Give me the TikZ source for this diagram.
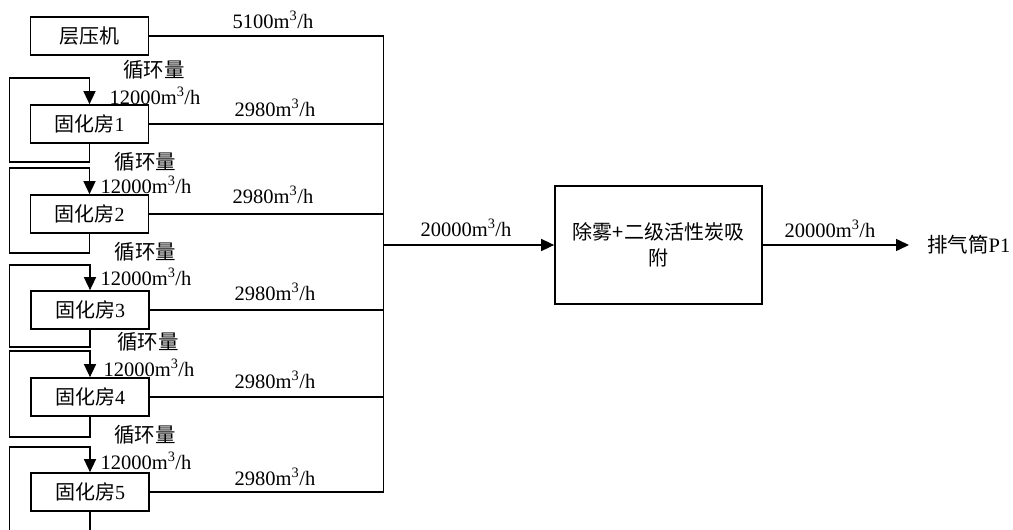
\documentclass[tikz,border=0pt]{standalone}
\usepackage{fontspec}
\setmainfont{Liberation Serif}
\newfontfamily\cjk{Noto Sans CJK SC}
\usetikzlibrary{arrows.meta}
\begin{document}
\begin{tikzpicture}[x=1pt,y=-1pt,
  box/.style={draw, line width=1.7pt, minimum width=118pt, minimum height=38pt, inner sep=0pt, font=\fontsize{20}{26}\selectfont},
  ln/.style={line width=1.5pt},
  arr/.style={ln, -{Triangle[length=13pt,width=12pt]}},
  lbl/.style={font=\fontsize{20.5}{24}\selectfont, inner sep=0pt},
]
\useasboundingbox (0,0) rectangle (1013,530);
\clip (0,0) rectangle (1013,530);
\fill[white] (0,0) rectangle (1013,530);

% source boxes
\node[box] (lam) at (89.5,36)  {\cjk 层压机};
\node[box] (g1)  at (89.5,124) {{\cjk 固化房}1};
\node[box] (g2)  at (89.5,214) {{\cjk 固化房}2};
\node[box] (g3)  at (90,310)   {{\cjk 固化房}3};
\node[box] (g4)  at (90,397)   {{\cjk 固化房}4};
\node[box] (g5)  at (90,492)   {{\cjk 固化房}5};

% treatment box and outlet
\node[box, minimum width=207pt, minimum height=118pt, align=center] (ads) at (658.5,245) {\cjk 除雾+二级活性炭吸\\\cjk 附};
\node[lbl, anchor=west] (p1) at (927,245) {{\cjk 排气筒}P1};

% collector
\coordinate (jn) at (383.5,245);
\draw[ln] (lam.east) -- (lam.east -| jn) -- (g5.east -| jn) -- (g5.east);
\foreach \i in {1,2,3,4} {\draw[ln] (g\i.east) -- (g\i.east -| jn);}
\draw[arr] (jn) -- (ads.west);
\draw[arr] (ads.east) -- ([xshift=-18pt]ads.east -| p1.west);

% recirculation loops
\draw[arr] (g1.south) -- ++(0,18) -- ++(-80,0) |- ([yshift=26pt]g1.north) -- (g1.north);
\draw[arr] (g2.south) -- ++(0,19) -- ++(-80,0) |- ([yshift=26pt]g2.north) -- (g2.north);
\draw[arr] (g3.south) -- ++(0,17) -- ++(-80.5,0) |- ([yshift=25pt]g3.north) -- (g3.north);
\draw[arr] (g4.south) -- ++(0,20) -- ++(-80.5,0) |- ([yshift=26pt]g4.north) -- (g4.north);
\draw[arr] (g5.south) -- ++(0,50) -- ++(-80.5,0) |- ([yshift=25pt]g5.north) -- (g5.north);

% loop labels
\node[lbl] at (154,70)  {\cjk 循环量};
\node[lbl] at (155,96)  {12000m\textsuperscript{3}/h};
\node[lbl] at (145.5,162) {\cjk 循环量};
\node[lbl] at (146,185) {12000m\textsuperscript{3}/h};
\node[lbl] at (145.5,252) {\cjk 循环量};
\node[lbl] at (146,277) {12000m\textsuperscript{3}/h};
\node[lbl] at (148,342) {\cjk 循环量};
\node[lbl] at (149,368) {12000m\textsuperscript{3}/h};
\node[lbl] at (145,435) {\cjk 循环量};
\node[lbl] at (146,461) {12000m\textsuperscript{3}/h};

% flow labels
\node[lbl] at (273,20)  {5100m\textsuperscript{3}/h};
\node[lbl] at (275,108) {2980m\textsuperscript{3}/h};
\node[lbl] at (273,195) {2980m\textsuperscript{3}/h};
\node[lbl] at (275,292) {2980m\textsuperscript{3}/h};
\node[lbl] at (275,380) {2980m\textsuperscript{3}/h};
\node[lbl] at (275,477) {2980m\textsuperscript{3}/h};
\node[lbl] at (466,228) {20000m\textsuperscript{3}/h};
\node[lbl] at (830,229) {20000m\textsuperscript{3}/h};
\end{tikzpicture}
\end{document}
